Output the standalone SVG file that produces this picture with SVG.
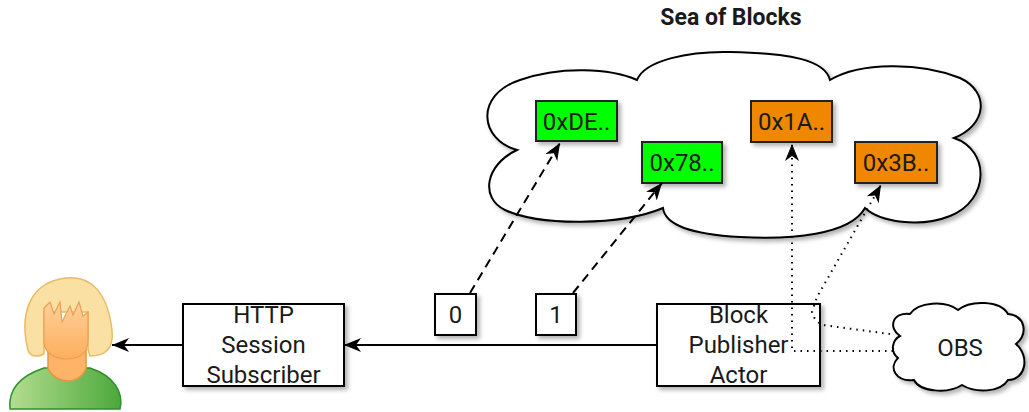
<svg xmlns="http://www.w3.org/2000/svg" width="1029" height="412" viewBox="0 0 1029 412">
  <style>
    text { font-family: Roboto, "Liberation Sans", sans-serif; fill: #1a1a1a; }
    .lbl { font-size: 24px; text-anchor: middle; }
    .title { font-size: 23px; font-weight: bold; text-anchor: middle; }
    .box { fill: #ffffff; stroke: #000; stroke-width: 2; }
    .green { fill: #00ff00; stroke: #222; stroke-width: 2; }
    .orange { fill: #f08705; stroke: #222; stroke-width: 2; }
    .cloud { fill: #ffffff; stroke: #000; stroke-width: 2; }
    .solid { fill: none; stroke: #000; stroke-width: 2; }
    .dashed { fill: none; stroke: #000; stroke-width: 2; stroke-dasharray: 9 6; }
    .dotted { fill: none; stroke: #000; stroke-width: 2; stroke-dasharray: 1.5 5; }
  </style>
  <defs>
    <filter id="shadow" x="-10%" y="-10%" width="130%" height="140%">
      <feDropShadow dx="3" dy="3" stdDeviation="2" flood-color="#000" flood-opacity="0.3"/>
    </filter>
    <marker id="arrow" markerUnits="userSpaceOnUse" markerWidth="18" markerHeight="14" refX="17" refY="7" orient="auto" viewBox="0 0 18 14">
      <path d="M0,0 L17,7 L0,14 L5,7 Z" fill="#000"/>
    </marker>
    <linearGradient id="shirt" x1="0" y1="0" x2="1" y2="0">
      <stop offset="0" stop-color="#b3dd8f"/>
      <stop offset="1" stop-color="#4ca83b"/>
    </linearGradient>
    <linearGradient id="skin" x1="0" y1="0" x2="0" y2="1">
      <stop offset="0" stop-color="#ffcf9a"/>
      <stop offset="1" stop-color="#fdae5c"/>
    </linearGradient>
  </defs>

  <text class="title" x="731" y="25">Sea of Blocks</text>

  <!-- sea of blocks cloud -->
  <g id="sea">
    <path class="cloud" filter="url(#shadow)" d="M517,150 C480,140 474,95 520,80 C560,66 610,68 637,80 C645,60 690,51 730,52 C790,53 825,60 830,80 C860,62 920,62 960,78 C990,92 987,125 954,138 C990,150 990,200 950,216 C920,228 880,222 865,208 C850,235 790,240 740,237 C690,234 665,225 663,208 C620,226 540,226 505,210 C480,198 485,165 517,150 Z"/>
  </g>

  <g id="block-0xDE">
    <rect class="green" filter="url(#shadow)" x="536" y="101" width="81" height="40"/>
    <text class="lbl" x="576.5" y="129.5">0xDE..</text>
  </g>
  <g id="block-0x78">
    <rect class="green" filter="url(#shadow)" x="642" y="142" width="80" height="41"/>
    <text class="lbl" x="682" y="171">0x78..</text>
  </g>
  <g id="block-0x1A">
    <rect class="orange" filter="url(#shadow)" x="751" y="101" width="81" height="41"/>
    <text class="lbl" x="791.5" y="130">0x1A..</text>
  </g>
  <g id="block-0x3B">
    <rect class="orange" filter="url(#shadow)" x="855" y="142" width="82" height="41"/>
    <text class="lbl" x="896" y="171">0x3B..</text>
  </g>

  <g id="index-0">
    <rect class="box" filter="url(#shadow)" x="435" y="294" width="41" height="41"/>
    <text class="lbl" x="455.5" y="323">0</text>
  </g>
  <g id="index-1">
    <rect class="box" filter="url(#shadow)" x="536" y="294" width="40" height="41"/>
    <text class="lbl" x="556" y="323">1</text>
  </g>

  <g id="http-session-subscriber">
    <rect class="box" filter="url(#shadow)" x="183" y="304" width="161" height="82"/>
    <text class="lbl" x="263.5" y="323">HTTP</text>
    <text class="lbl" x="263.5" y="353">Session</text>
    <text class="lbl" x="263.5" y="383">Subscriber</text>
  </g>

  <g id="block-publisher-actor">
    <rect class="box" filter="url(#shadow)" x="657" y="304" width="163" height="82"/>
    <text class="lbl" x="738.5" y="323">Block</text>
    <text class="lbl" x="738.5" y="353">Publisher</text>
    <text class="lbl" x="738.5" y="383">Actor</text>
  </g>

  <g id="obs">
    <path class="cloud" filter="url(#shadow)" d="M900,336 C888,328 892,312 910,314 C918,302 945,300 958,310 C970,300 1000,300 1008,314 C1026,316 1028,334 1016,344 C1030,356 1026,380 1008,380 C1000,393 975,393 962,385 C948,394 920,392 914,380 C896,382 888,368 898,358 C890,352 892,340 900,336 Z"/>
    <text class="lbl" x="960" y="356">OBS</text>
  </g>

  <g id="user">
    <path d="M10,409 C8,390 20,376 44,368 L90,368 C114,376 124,392 120,409 Z" fill="url(#shirt)" stroke="#2f8f2f" stroke-width="1.5"/>
    <path d="M48,350 L48,369 C58,385 78,385 86,369 L86,350 Z" fill="#fdb468" stroke="#e9953d" stroke-width="1.5"/>
    <path d="M28,350 C20,318 27,286 60,279 C93,272 108,296 112,330 C114,348 106,356 90,356 L88,350 L88,312 L44,312 L44,354 C36,358 30,356 28,350 Z" fill="#fbe0a4" stroke="#e9bb64" stroke-width="1.5"/>
    <path d="M44,308 L50,302 L54,314 L60,302 L62,322 L70,306 L73,315 L79,302 L83,316 L88,312 L88,340 C88,354 78,359 66,359 C54,359 44,352 44,342 Z" fill="url(#skin)" stroke="#e9a050" stroke-width="1.2"/>
  </g>

  <g id="connectors">
    <path class="solid" d="M657,345 L344,345" marker-end="url(#arrow)"/>
    <path class="solid" d="M183,345 L112,345" marker-end="url(#arrow)"/>
    <path class="dashed" d="M470,293 L560,143" marker-end="url(#arrow)"/>
    <path class="dashed" d="M573,293 L662,183" marker-end="url(#arrow)"/>
    <path class="dotted" d="M893,351 L792,351 L792,144" marker-end="url(#arrow)"/>
    <path class="dotted" d="M890,334 L830,326 Q815,325 812,312 L817,297 L881,185" marker-end="url(#arrow)"/>
  </g>
</svg>
